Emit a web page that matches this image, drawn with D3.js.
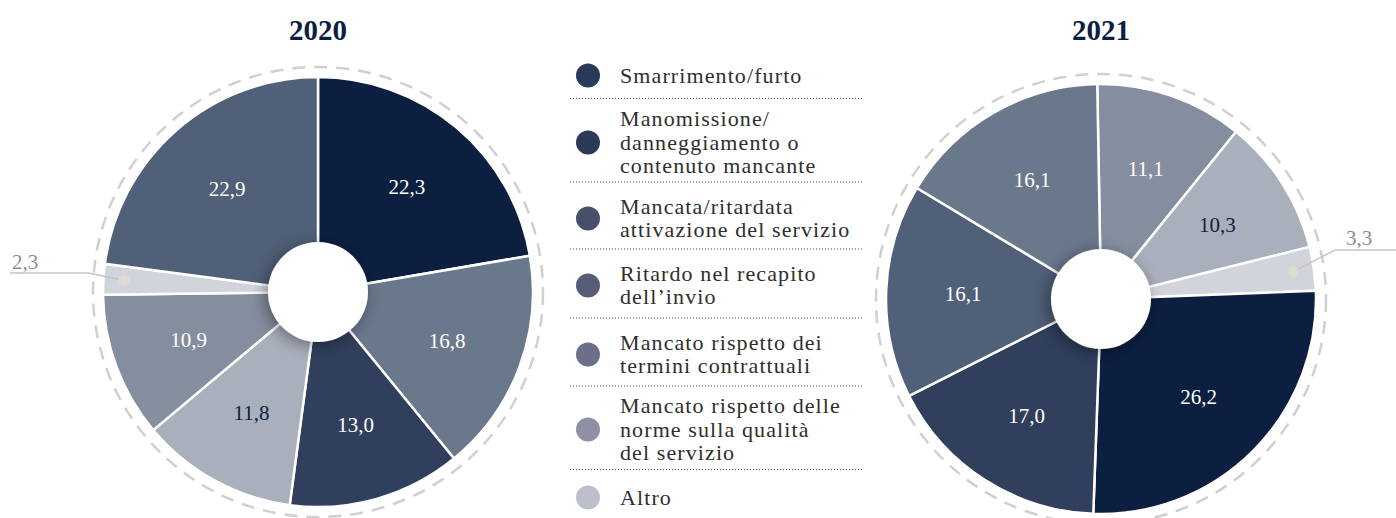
<!DOCTYPE html>
<html>
<head>
<meta charset="utf-8">
<script src="https://cdn.jsdelivr.net/npm/d3@7"></script>
<style>
  html, body { margin: 0; padding: 0; background: #ffffff; }
  svg { display: block; }
  text { font-family: "Liberation Serif", "DejaVu Serif", serif; }
</style>
</head>
<body>
<svg id="chart" width="1396" height="518"></svg>
<script>
// ---- data -------------------------------------------------------------
const categories = [
  ["Smarrimento/furto"],
  ["Manomissione/", "danneggiamento o", "contenuto mancante"],
  ["Mancata/ritardata", "attivazione del servizio"],
  ["Ritardo nel recapito", "dell\u2019invio"],
  ["Mancato rispetto dei", "termini contrattuali"],
  ["Mancato rispetto delle", "norme sulla qualit\u00e0", "del servizio"],
  ["Altro"]
];
const years = ["2020", "2021"];
// shares (%) per category, same order as the categories above
const values2020 = [22.3, 13.0, 22.9, 16.8, 10.9, 11.8, 2.3];
const values2021 = [26.2, 17.0, 16.1, 16.1, 11.1, 10.3, 3.3];
// clockwise sequence of categories around each pie
const order2020 = [0, 3, 1, 5, 4, 6, 2];
const order2021 = [4, 5, 6, 0, 1, 2, 3];

// ---- styling ----------------------------------------------------------
const sliceColors  = ["#0c1f40", "#2f3f5c", "#506078", "#6a788c", "#858e9f", "#a9afbb", "#d1d5db"];
const legendColors = ["#2c3a5a", "#2c3a5a", "#484f6b", "#575d79", "#6b6f8a", "#8e90a4", "#bdbecb"];
const labelColors  = ["#ffffff", "#ffffff", "#ffffff", "#ffffff", "#ffffff", "#0c1f40", "#ffffff"];
const navy = "#0c1f40";
const OTHER = 6;

const locale = d3.formatLocale({ decimal: ",", thousands: ".", grouping: [3], currency: ["", "\u20ac"] });
const fmt = locale.format(".1f");

const svg = d3.select("#chart");
svg.append("rect").attr("width", 1396).attr("height", 518).attr("fill", "#ffffff");

const defs = svg.append("defs");
const shadow = defs.append("filter").attr("id", "holeShadow")
  .attr("x", "-60%").attr("y", "-60%").attr("width", "220%").attr("height", "220%");
shadow.append("feDropShadow")
  .attr("dx", -3).attr("dy", 3).attr("stdDeviation", 8)
  .attr("flood-color", "#000000").attr("flood-opacity", 0.4);

const R = 215, HOLE = 50, RING = 225, LABEL_R = 138, DOT_R = 194;

const pies = [
  { year: years[0], values: values2020, order: order2020, cx: 318, cy: 292, start: 0,
    leader: { elbowDx: -36, elbowY: 273, endX: 10, labelX: 12, labelY: 269, anchor: "start" } },
  { year: years[1], values: values2021, order: order2021, cx: 1101, cy: 299, start: -1,
    leader: { elbowDx: 42, elbowY: 250, endX: 1396, labelX: 1346, labelY: 245, anchor: "start" } }
];

pies.forEach(p => {
  const g = svg.append("g").attr("transform", `translate(${p.cx},${p.cy})`);
  const a0 = p.start * Math.PI / 180;
  const pie = d3.pie().sort(null).value(d => d.value)
    .startAngle(a0).endAngle(a0 + 2 * Math.PI);
  const arcs = pie(p.order.map(i => ({ cat: i, value: p.values[i] })));

  const arc = d3.arc().innerRadius(0).outerRadius(R);
  const labelArc = d3.arc().innerRadius(LABEL_R).outerRadius(LABEL_R);
  const dotArc = d3.arc().innerRadius(DOT_R).outerRadius(DOT_R);

  // dashed outer ring
  g.append("circle").attr("r", RING)
    .attr("fill", "none").attr("stroke", "#d0d0d0")
    .attr("stroke-width", 2.5).attr("stroke-dasharray", "13 9");

  // title
  svg.append("text")
    .attr("x", p.cx).attr("y", 40)
    .attr("text-anchor", "middle")
    .attr("font-size", 29).attr("font-weight", "bold")
    .attr("fill", navy).text(p.year);

  // slices
  g.selectAll("path.slice").data(arcs).join("path")
    .attr("class", "slice")
    .attr("d", arc)
    .attr("fill", d => sliceColors[d.data.cat])
    .attr("stroke", "#ffffff").attr("stroke-width", 2.5)
    .attr("stroke-linejoin", "round");

  // centre hole with soft shadow
  g.append("circle").attr("r", HOLE).attr("fill", "#ffffff")
    .attr("filter", "url(#holeShadow)");

  // in-slice value labels
  g.selectAll("text.value").data(arcs.filter(d => d.data.cat !== OTHER)).join("text")
    .attr("class", "value")
    .attr("transform", d => `translate(${labelArc.centroid(d)})`)
    .attr("text-anchor", "middle").attr("dy", "0.35em")
    .attr("font-size", 21)
    .attr("fill", d => labelColors[d.data.cat])
    .text(d => fmt(d.data.value));

  // small "Altro" slice: dot + leader line + outside label
  const other = arcs.find(d => d.data.cat === OTHER);
  const [dx, dy] = dotArc.centroid(other);
  const L = p.leader;
  const ex = dx + L.elbowDx, ey = L.elbowY - p.cy;
  g.append("path")
    .attr("d", d3.line()([[dx, dy], [ex, ey], [L.endX - p.cx, ey]]))
    .attr("fill", "none").attr("stroke", "#c4c4c4").attr("stroke-width", 1.5);
  g.append("circle").attr("cx", dx).attr("cy", dy).attr("r", 5.5).attr("fill", "#dddbd3");
  svg.append("text")
    .attr("x", L.labelX).attr("y", L.labelY)
    .attr("text-anchor", L.anchor)
    .attr("font-size", 21).attr("fill", "#8f8f8f")
    .text(fmt(other.data.value));
});

// ---- legend -----------------------------------------------------------
const rowCenters = [75, 142, 218, 285, 354, 429, 497];
const separators = [98.5, 182, 249, 318, 386, 469.5];
const LINE_H = 23.5;

const legend = svg.append("g");
legend.selectAll("line.sep").data(separators).join("line")
  .attr("class", "sep")
  .attr("x1", 570).attr("x2", 862)
  .attr("y1", d => d).attr("y2", d => d)
  .attr("stroke", "#3d4560").attr("stroke-width", 1)
  .attr("stroke-dasharray", "1 2");

const rows = legend.selectAll("g.row").data(categories).join("g").attr("class", "row");
rows.append("circle")
  .attr("cx", 588).attr("cy", (d, i) => rowCenters[i] + 0.5)
  .attr("r", 12).attr("fill", (d, i) => legendColors[i]);
rows.each(function (lines, i) {
  const first = rowCenters[i] - (lines.length - 1) * LINE_H / 2 + 7.5;
  d3.select(this).selectAll("text").data(lines).join("text")
    .attr("x", 620).attr("y", (d, j) => first + j * LINE_H)
    .attr("font-size", 22).attr("letter-spacing", 1.1)
    .attr("fill", "#2e2e2e")
    .text(d => d);
});
</script>
</body>
</html>
